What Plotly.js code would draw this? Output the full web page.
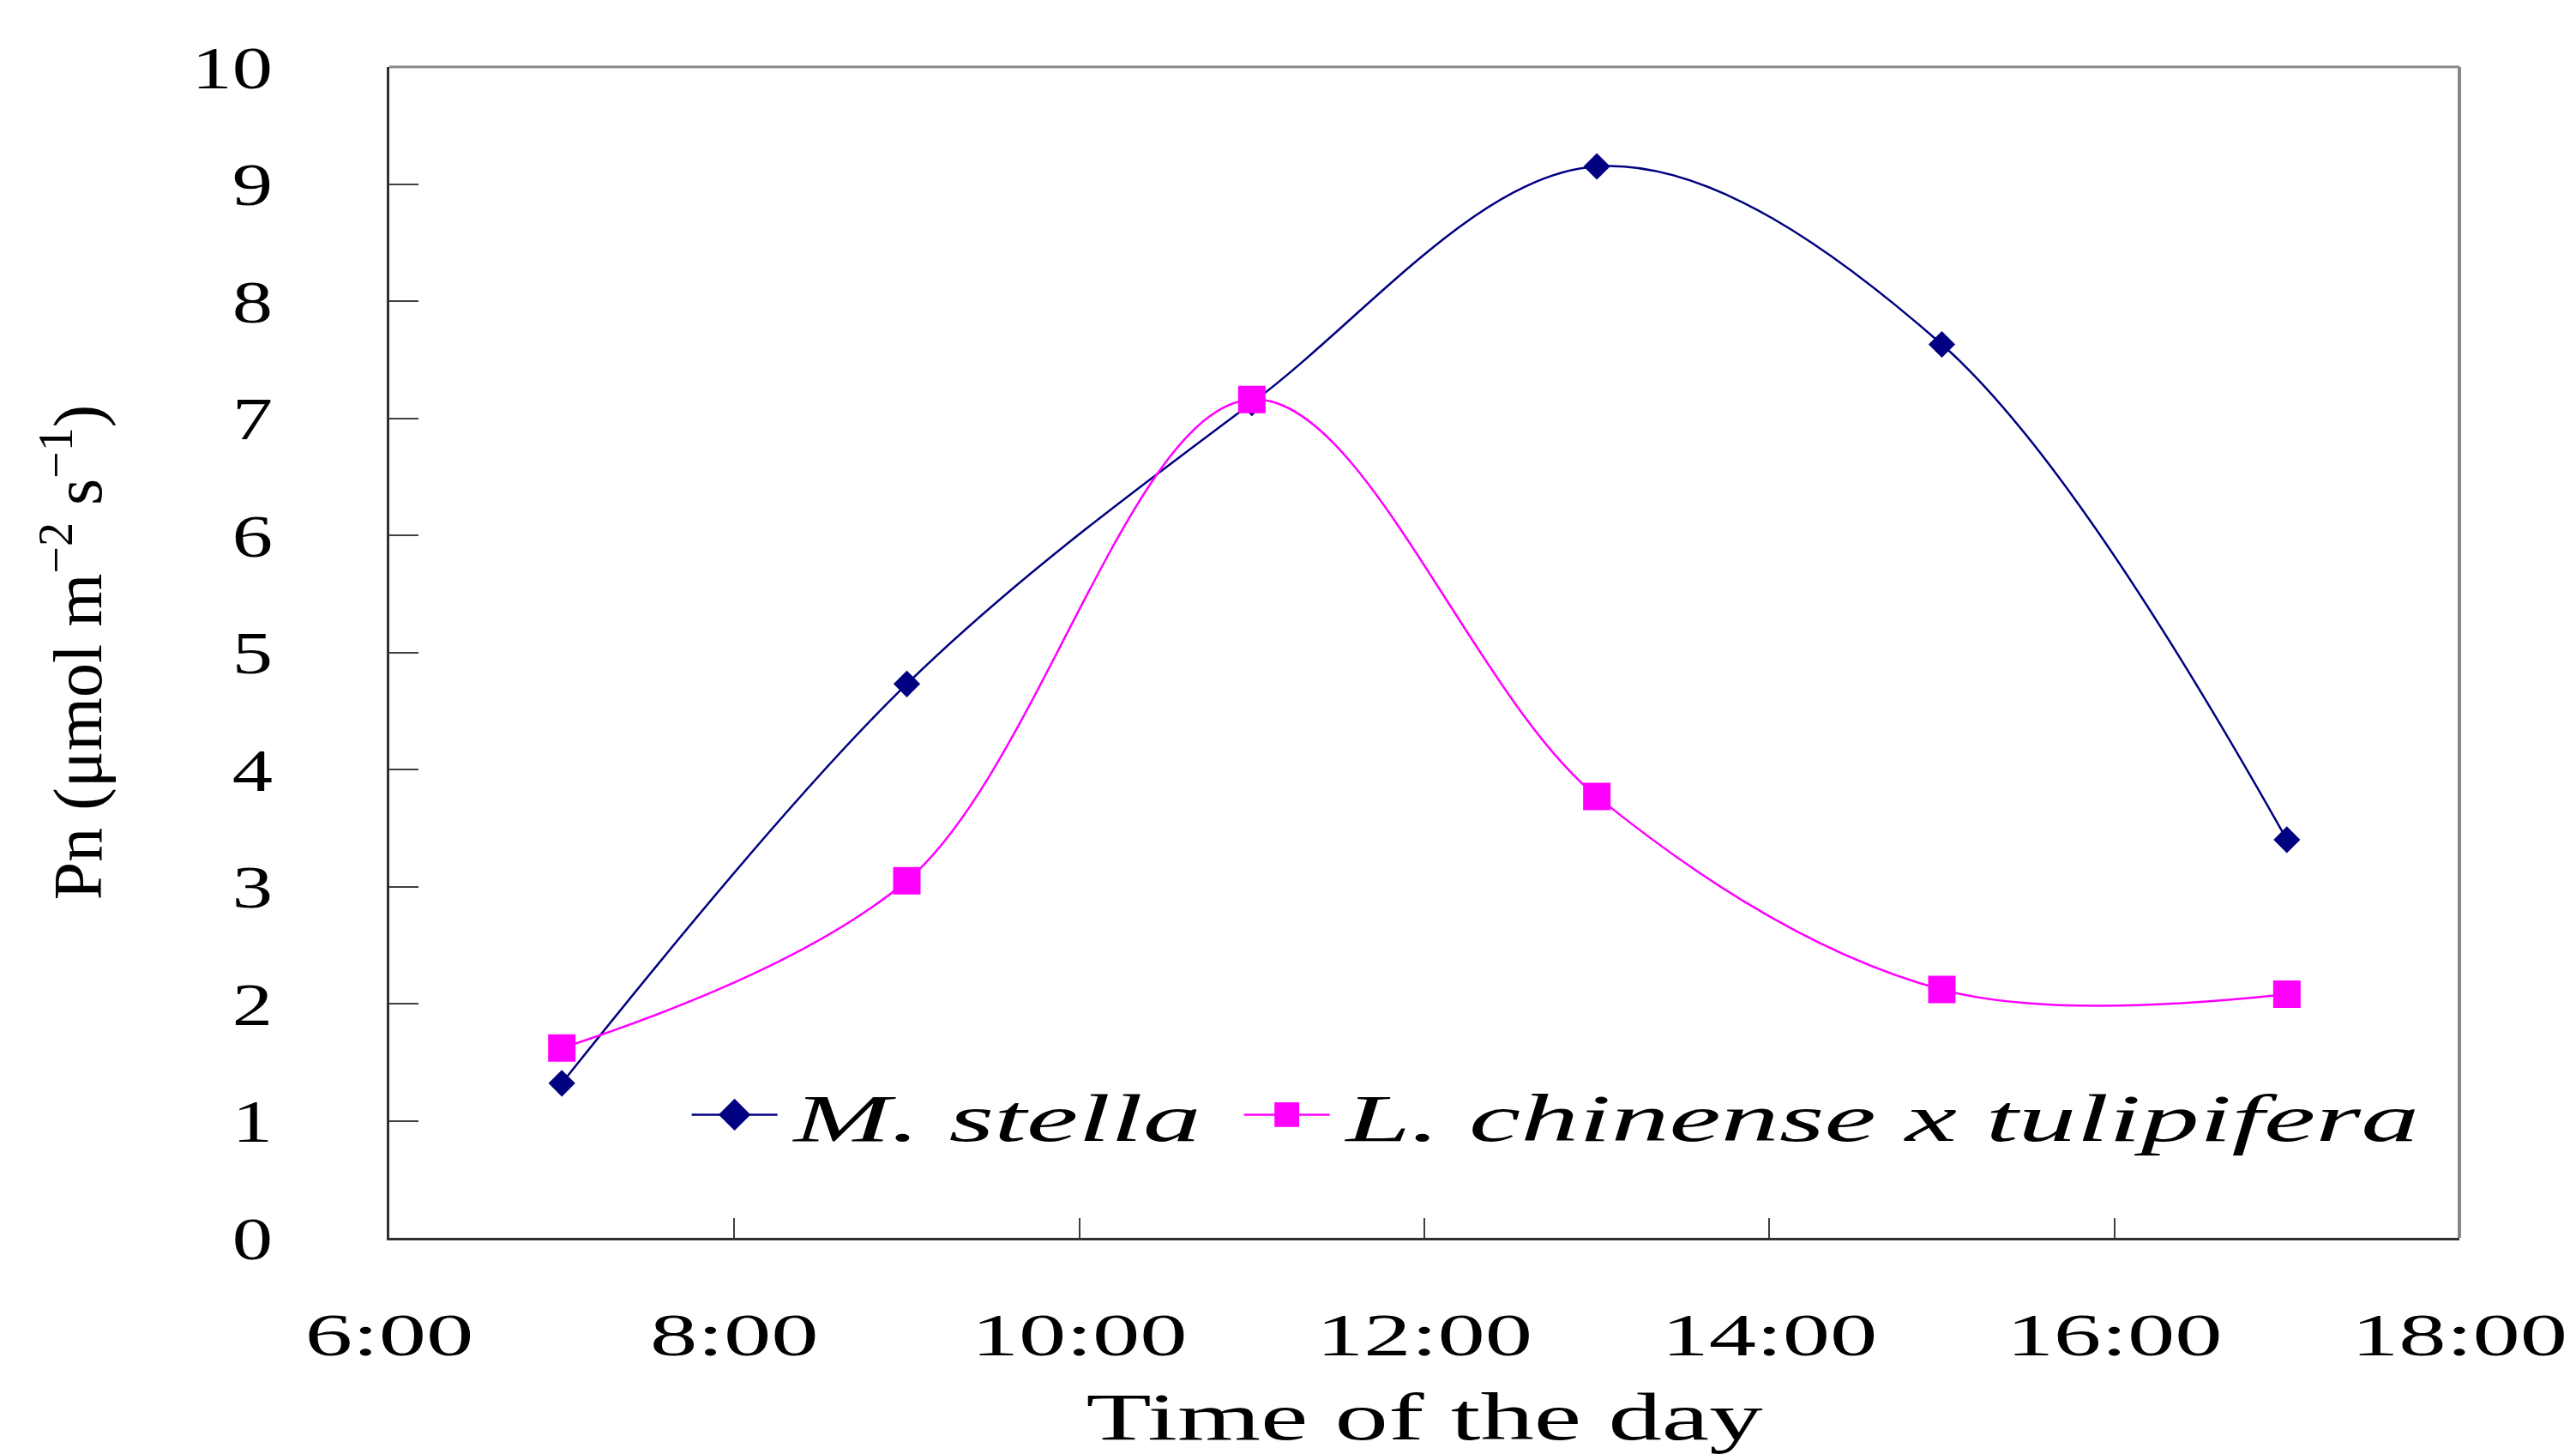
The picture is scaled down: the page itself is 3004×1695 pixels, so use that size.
<!DOCTYPE html>
<html>
<head>
<meta charset="utf-8">
<script src="https://cdn.plot.ly/plotly-3.0.1.min.js"></script>
<style>
html, body { margin: 0; padding: 0; background: #ffffff; }
#chart { width: 3004px; height: 1695px; }
</style>
</head>
<body>
<div id="chart"></div>
<script>
// ---- data ----
const hours = [7, 9, 11, 13, 15, 17];
const mStella = [1.32, 4.73, 7.13, 9.15, 7.63, 3.40];
const lChinense = [1.62, 3.05, 7.16, 3.77, 2.12, 2.08];
const seriesNames = ["M. stella", "L. chinense x tulipifera"];
const xTickVals = [6, 8, 10, 12, 14, 16, 18];
const xTickText = ["6:00", "8:00", "10:00", "12:00", "14:00", "16:00", "18:00"];
const yTickVals = [0, 1, 2, 3, 4, 5, 6, 7, 8, 9, 10];
const xTitle = "Time of the day";
const yTitle = "Pn (μmol m<sup>−2</sup> s<sup>−1</sup>)";

const serif = "Liberation Serif, Times New Roman, serif";

const traces = [
  {
    x: hours, y: mStella, name: seriesNames[0],
    type: "scatter", mode: "lines+markers",
    line: { color: "#000080", width: 2.5, shape: "spline", smoothing: 1 },
    marker: { symbol: "diamond", size: 24, color: "#000080" }
  },
  {
    x: hours, y: lChinense, name: seriesNames[1],
    type: "scatter", mode: "lines+markers",
    line: { color: "#FF00FF", width: 2.5, shape: "spline", smoothing: 1 },
    marker: { symbol: "square", size: 32, color: "#FF00FF" }
  }
];

const layout = {
  width: 3004, height: 1695,
  paper_bgcolor: "#ffffff", plot_bgcolor: "#ffffff",
  margin: { l: 454, r: 136, t: 78, b: 252, pad: 0 },
  showlegend: true,
  font: { family: serif, color: "#000000", size: 70 },
  xaxis: {
    range: [6, 18], tickvals: xTickVals, ticktext: xTickText,
    ticks: "inside", ticklen: 23, tickwidth: 2, tickcolor: "#404040",
    showline: true, linecolor: "#303030", linewidth: 3,
    showgrid: false, zeroline: false, automargin: false,
    ticklabelstandoff: 50,
    tickfont: { family: serif, size: 70, color: "#000000" },
    title: { text: xTitle, font: { family: serif, size: 78, color: "#000000" }, standoff: 40 }
  },
  yaxis: {
    range: [0, 10], tickvals: yTickVals,
    ticks: "inside", ticklen: 34, tickwidth: 2, tickcolor: "#404040",
    showline: true, linecolor: "#303030", linewidth: 3,
    showgrid: false, zeroline: false, automargin: false,
    ticklabelstandoff: 119,
    tickfont: { family: serif, size: 70, color: "#000000" },
    title: { text: yTitle, font: { family: serif, size: 80, color: "#000000" }, standoff: 104 }
  },
  shapes: [
    { type: "line", xref: "paper", yref: "paper", x0: 0, x1: 1, y0: 1, y1: 1,
      line: { color: "#888888", width: 3 } },
    { type: "line", xref: "paper", yref: "paper", x0: 1, x1: 1, y0: 0, y1: 1,
      line: { color: "#888888", width: 4 } }
  ],
  legend: {
    orientation: "h", x: 0.144, xanchor: "left", y: 0.105, yanchor: "middle",
    bgcolor: "rgba(0,0,0,0)", borderwidth: 0,
    font: { family: serif, size: 78, style: "italic", color: "#000000" },
    itemwidth: 100, entrywidth: 529, traceorder: "normal"
  }
};

function stretch(sel, factor) {
  document.querySelectorAll(sel).forEach(function (el) {
    const w = el.getComputedTextLength();
    if (w > 0) {
      el.setAttribute("textLength", (w * factor).toFixed(1));
      el.setAttribute("lengthAdjust", "spacingAndGlyphs");
    }
  });
}

Plotly.newPlot("chart", traces, layout, { staticPlot: true, displayModeBar: false }).then(function () {
  stretch(".xtick text", 1.58);
  stretch(".ytick text", 1.35);
  stretch(".g-xtitle text", 1.6);
  stretch(".legendtext", 1.74);
  document.querySelectorAll(".legend [clip-path]").forEach(function (el) {
    el.removeAttribute("clip-path");
  });
  document.querySelectorAll(".legendtext").forEach(function (el) {
    const x = parseFloat(el.getAttribute("x") || "0");
    el.setAttribute("x", (x + 14).toFixed(1));
  });
  document.querySelectorAll(".legendpoints path.scatterpts").forEach(function (p) {
    const t = p.getAttribute("transform") || "";
    p.setAttribute("transform", t + " scale(1.8)");
  });
});
</script>
</body>
</html>
